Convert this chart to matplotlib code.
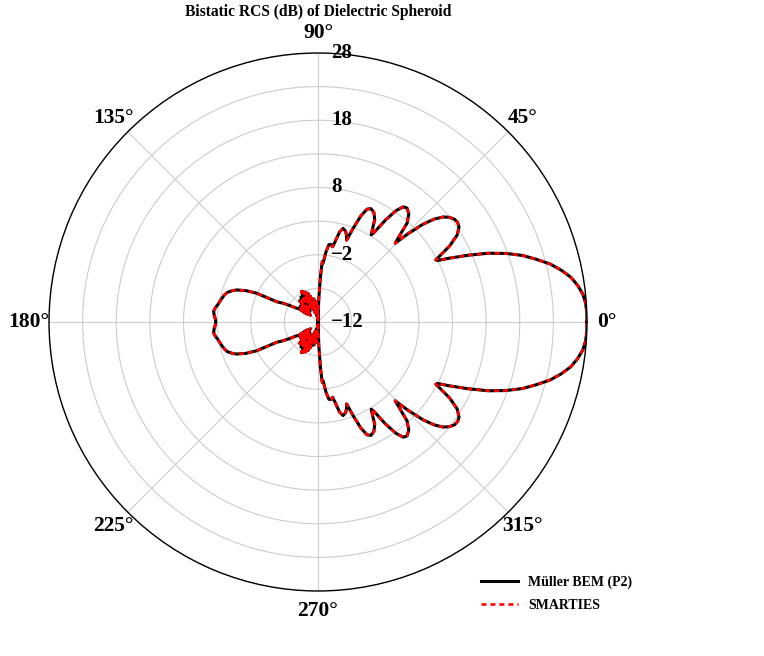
import numpy as np
import matplotlib
matplotlib.use('Agg')
import matplotlib.pyplot as plt
import matplotlib.transforms as mtransforms

# bistatic RCS (dB) vs angle (deg), upper half; the pattern is symmetric about 0 deg
theta_half = [0, 2, 4, 6, 8, 10, 12, 14, 16, 18, 20, 22, 24, 26, 27.2, 27.8,
              28.5, 30, 32, 34, 35.5, 37, 38.5, 40, 41.5, 43, 44.5, 45.6,
              46.5, 48, 50, 52, 53.5, 55, 56.5, 58, 58.6, 59.5, 61, 63, 65,
              66.5, 68, 69.5, 70.7, 71.5, 73, 75, 76.5, 78, 79, 80.5, 82,
              83.5, 85, 86, 87, 88, 89,
              90, 91.5, 93, 94.5, 96, 97.5, 99, 100.5, 102, 103.5, 105, 106.5,
              108, 109.5, 111, 112.5, 114, 115.5, 117, 118.5, 120, 121.5, 123,
              124.5, 126, 127.5, 129, 130.5, 132, 133.5, 135, 136.5, 138, 139.5,
              141, 142.5, 144, 145.5, 147.3, 150, 152, 153.8, 154.9, 156.5,
              158.5, 160, 162, 164, 166, 168, 170, 172, 174, 176, 178, 180]
rcs_half = [28.0, 28.0, 27.9, 27.6, 27.0, 26.2, 25.0, 23.6, 21.8, 20.0, 17.8,
            15.3, 12.4, 9.6, 8.0, 7.8,
            8.6, 10.6, 12.4, 13.3, 13.5, 13.4, 13.0, 12.3, 11.1, 9.3, 6.6, 4.4,
            5.5, 7.8, 9.0, 9.5, 9.3, 8.2, 6.2, 3.6, 3.2, 3.9, 5.4, 6.3, 6.6,
            6.3, 5.0, 2.8, 0.9, 1.4, 2.1, 2.4, 1.8, 0.2, -0.6, -0.3, -0.4,
            -1.5, -3.2, -3.0, -5.5, -8.5, -11.0,
            -12.0, -9.5, -11.0, -9.0, -11.5, -9.5, -10.5, -8.5, -11.0, -9.0, -10.5, -8.0,
            -10.5, -7.5, -10.0, -7.2, -9.5, -7.0, -9.0, -6.8, -9.5, -7.5, -9.5,
            -7.5, -10.0, -8.0, -9.5, -7.8, -10.0, -8.5, -10.0, -8.5, -10.5, -8.5,
            -10.0, -8.8, -10.0, -8.5, -8.2, -7.0, -6.0, -5.2, -1.9, -0.3,
            1.0, 1.6, 2.2, 2.5, 2.7, 2.9, 3.1, 3.4, 3.6, 3.5, 3.3, 3.2]

# full circle by mirroring
theta_deg = np.concatenate([theta_half, 360 - np.array(theta_half[::-1][1:])])
rcs_bem = np.concatenate([rcs_half, rcs_half[::-1][1:]])
rcs_smarties = rcs_bem.copy()

r_ticks = [-12, -7, -2, 3, 8, 13, 18, 23, 28]
r_labels = ['\u221212', '', '\u22122', '', '8', '', '18', '', '28']

plt.rcParams['font.family'] = ['Liberation Serif', 'DejaVu Serif']
plt.rcParams['font.weight'] = 'bold'

fig = plt.figure(figsize=(7.64, 6.56), dpi=100)
ax = fig.add_axes([49/764, 65/656, 538/764, 538/656], projection='polar')

th = np.deg2rad(theta_deg)
ax.plot(th, rcs_bem, color='black', lw=2.2, label='Müller BEM (P2)')
ax.plot(th, rcs_smarties, color='red', lw=1.9, dashes=(1.9, 1.5), label='SMARTIES')

ax.set_ylim(-12, 28)
ax.set_rticks(r_ticks)
ax.set_yticklabels([])
# radial labels drawn by hand, just right of the 90 deg spoke
off = mtransforms.ScaledTranslation(13/100, 0, fig.dpi_scale_trans)
for v, s in zip(r_ticks, r_labels):
    if s:
        ax.text(np.pi/2, v, s, transform=ax.transData + off,
                ha='left', va='center', fontsize=15, fontweight='bold')
ax.set_thetagrids(np.arange(0, 360, 45),
                  labels=[f'{a}°' for a in range(0, 360, 45)],
                  fontsize=15.5, fontweight='bold')
ax.tick_params(axis='x', pad=4)
ax.grid(True, color='#cccccc', lw=0.8)
ax.spines['polar'].set_color('black')
ax.spines['polar'].set_linewidth(1.0)

fig.text(318/764, 1 - 12/656, 'Bistatic RCS (dB) of Dielectric Spheroid',
         ha='center', va='center', fontsize=11.2, fontweight='bold')

fig.legend(loc='upper left', bbox_to_anchor=(474/764, 1 - 569/656),
           frameon=False, borderpad=0, handlelength=2.7, handletextpad=0.7,
           labelspacing=0.7, prop={'size': 10, 'weight': 'bold'})

fig.savefig('out.png', dpi=100)
